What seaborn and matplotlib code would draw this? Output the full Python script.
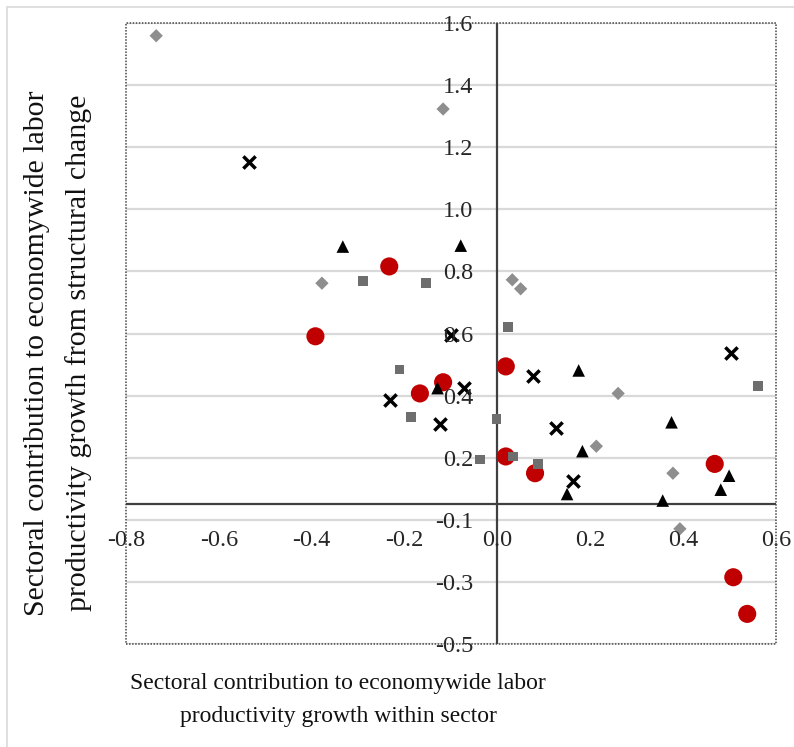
import numpy as np
import pandas as pd
import matplotlib
matplotlib.use("Agg")
import matplotlib.pyplot as plt
import seaborn as sns
from matplotlib.lines import Line2D
from matplotlib.patches import Rectangle

# Sector groups: within-sector contribution (x) vs structural-change contribution (y)
circle_x = [-0.233, -0.392, -0.167, -0.117, 0.018, 0.018, 0.081, 0.468, 0.508, 0.538]
circle_y = [0.766, 0.541, 0.357, 0.393, 0.444, 0.154, 0.100, 0.130, -0.235, -0.353]

triangle_x = [-0.333, -0.079, -0.129, 0.175, 0.183, 0.150, 0.375, 0.356, 0.499, 0.481]
triangle_y = [0.830, 0.833, 0.374, 0.431, 0.171, 0.033, 0.264, 0.012, 0.092, 0.047]

cross_x = [-0.536, -0.099, -0.232, -0.073, -0.124, 0.077, 0.127, 0.162, 0.502]
cross_y = [1.101, 0.546, 0.337, 0.375, 0.259, 0.414, 0.245, 0.076, 0.486]

square_x = [-0.290, -0.154, 0.022, -0.211, -0.187, -0.002, -0.038, 0.034, 0.088, 0.561]
square_y = [0.720, 0.712, 0.570, 0.434, 0.280, 0.275, 0.144, 0.154, 0.130, 0.382]

diamond_x = [-0.735, -0.117, -0.378, 0.032, 0.050, 0.260, 0.213, 0.378, 0.393]
diamond_y = [1.509, 1.273, 0.712, 0.723, 0.694, 0.357, 0.187, 0.100, -0.079]

x_ticks = [-0.8, -0.6, -0.4, -0.2, 0.0, 0.2, 0.4, 0.6]
x_tick_labels = ["-0.8", "-0.6", "-0.4", "-0.2", "0.0", "0.2", "0.4", "0.6"]
y_ticks = [-0.45, -0.25, -0.05, 0.15, 0.35, 0.55, 0.75, 0.95, 1.15, 1.35, 1.55]
y_tick_labels = ["-0.5", "-0.3", "-0.1", "0.2", "0.4", "0.6", "0.8", "1.0", "1.2", "1.4", "1.6"]

x_title = "Sectoral contribution to economywide labor\nproductivity growth within sector"
y_title = "Sectoral contribution to economywide labor\nproductivity growth from structural change"

sns.set_theme(style="white")
plt.rcParams["font.family"] = ["Liberation Serif", "DejaVu Serif"]

fig = plt.figure(figsize=(7.94, 7.47), dpi=100)
ax = fig.add_axes([126 / 794, 1 - 644 / 747, 650 / 794, 621 / 747])

series = [
    (circle_x, circle_y, "o", 170, "#C00000"),
    (square_x, square_y, "s", 50, "#6E6E6E"),
    (diamond_x, diamond_y, "D", 46, "#8E8E8E"),
    (triangle_x, triangle_y, "^", 82, "#000000"),
]
for xs, ys, mk, size, col in series:
    df = pd.DataFrame({"x": xs, "y": ys})
    sns.scatterplot(data=df, x="x", y="y", marker=mk, s=size, color=col,
                    edgecolor="none", linewidth=0, ax=ax, zorder=3)

df_cross = pd.DataFrame({"x": cross_x, "y": cross_y})
sns.scatterplot(data=df_cross, x="x", y="y", marker="x", s=78, color="#000000",
                linewidth=2.5, ax=ax, zorder=3)

ax.set_xlim(-0.8, 0.6)
ax.set_ylim(-0.45, 1.55)
ax.set_xlabel("")
ax.set_ylabel("")

# Light horizontal gridlines at each major tick
for yv in y_ticks:
    ax.axhline(yv, color="#D9D9D9", lw=1.6, zorder=1)

# Axes crossing at the origin
ax.axhline(0, color="#404040", lw=1.6, zorder=2)
ax.axvline(0, color="#404040", lw=1.6, zorder=2)

for sp in ax.spines.values():
    sp.set_visible(False)
ax.add_patch(Rectangle((0, 0), 1, 1, transform=ax.transAxes, fill=False,
                       edgecolor="#444444", lw=1.1, linestyle=(0, (1, 1)),
                       zorder=4, clip_on=False))

ax.set_xticks([])
ax.set_yticks([])
tick_color = "#262626"
for xv, lab in zip(x_ticks, x_tick_labels):
    ax.annotate(lab, xy=(xv, 0), xycoords="data", xytext=(0, -26),
                textcoords="offset pixels", ha="center", va="top",
                fontsize=17.5, color=tick_color, annotation_clip=False)
for yv, lab in zip(y_ticks, y_tick_labels):
    ax.annotate(lab, xy=(0, yv), xycoords="data", xytext=(-24, 0),
                textcoords="offset pixels", ha="right", va="center_baseline",
                fontsize=17.5, color=tick_color, annotation_clip=False)

fig.text(338 / 794, 1 - 700 / 747, x_title, ha="center", va="center",
         multialignment="center", fontsize=17, color="#111111", linespacing=1.75)
fig.text(58 / 794, 1 - 353 / 747, y_title, ha="center", va="center",
         rotation=90, multialignment="center", fontsize=21.5, color="#111111",
         linespacing=1.7)

# Chart area outline
fig.add_artist(Line2D([7 / 794, 1.0], [1 - 7 / 747, 1 - 7 / 747],
                      transform=fig.transFigure, color="#D9D9D9", lw=1.2))
fig.add_artist(Line2D([7 / 794, 7 / 794], [0.0, 1 - 7 / 747],
                      transform=fig.transFigure, color="#D9D9D9", lw=1.2))

fig.savefig("out.png", dpi=100)
